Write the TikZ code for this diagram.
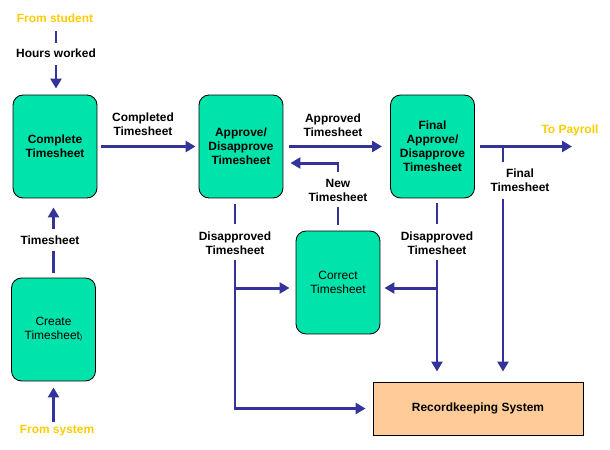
\documentclass[tikz,border=0pt]{standalone}
\usepackage{fontspec}
\setmainfont{Liberation Sans}
\definecolor{tsNavy}{HTML}{333399}
\definecolor{tsGreen}{HTML}{00E3AA}
\definecolor{tsPeach}{HTML}{FFCC99}
\definecolor{tsGold}{HTML}{FFCC00}
\usetikzlibrary{arrows.meta}

\begin{document}
\begin{tikzpicture}[x=0.02cm, y=-0.02cm,
  every node/.style={font=\fontsize{6.8}{8}\selectfont\bfseries, align=center, inner sep=1pt},
  proc/.style={draw=black, fill=tsGreen, rounded corners=0.2cm, line width=0.5pt,
    minimum width=1.68cm, minimum height=2.06cm},
  link/.style={draw=tsNavy, line width=0.06cm},
  flow/.style={link, -{Triangle[length=0.2cm, width=0.22cm]}},
  src/.style={text=tsGold}]
  \useasboundingbox (0,0) rectangle (610,450);

  \node[proc] (complete) at (55,146.5) {Complete\\Timesheet};
  \node[proc] (approve) at (241,146.5) {Approve/\\Disapprove\\Timesheet};
  \node[proc] (final) at (432.5,146.5) {Final\\Approve/\\Disapprove\\Timesheet};
  \node[proc] (correct) at (338,282.5) {\mdseries Correct\\\mdseries Timesheet};
  \node[proc] (create) at (53.5,329.5) {\mdseries Create\\\mdseries Timesheet{\fontsize{4}{4}\selectfont)}};
  \node[draw=black, fill=tsPeach, line width=0.5pt, minimum width=4.2cm, minimum height=1.06cm]
    (records) at (478,408.5) {Recordkeeping System};

  \node[src] (fromstudent) at (55,18) {From student};
  \node (hours) at (56,53) {Hours worked};
  \node (completed) at (143,124) {Completed\\Timesheet};
  \node (approved) at (333,125) {Approved\\Timesheet};
  \node (newts) at (338,190) {New\\Timesheet};
  \node[src] (topayroll) at (570,130) {To Payroll};
  \node (finalts) at (520,180) {Final\\Timesheet};
  \node (dis1) at (235,243) {Disapproved\\Timesheet};
  \node (dis2) at (437,243) {Disapproved\\Timesheet};
  \node (tslabel) at (50,240) {Timesheet};
  \node[src] (fromsystem) at (57,431) {From system};

  \coordinate (nt) at (338,163);
  \coordinate (pay) at (572,146.5);
  \coordinate (fj) at (503,146.5);
  \coordinate (cj1) at (235,288);
  \coordinate (cj2) at (437,288);

  \draw[link, shorten <=0.14cm, shorten >=0.08cm] (fromstudent.south -| hours.north) -- (hours.north);
  \draw[flow, shorten <=0.12cm, shorten >=0.12cm] (hours.south) -- (hours.south |- complete.north);
  \draw[flow, shorten <=0.08cm, shorten >=0.06cm] (complete.east) -- (approve.west);
  \draw[flow, shorten <=0.12cm, shorten >=0.16cm] (approve.east) -- (final.west);
  \draw[link, shorten <=0.12cm, shorten >=0.08cm] (correct.north) -- (correct.north |- newts.south);
  \draw[flow, shorten <=0.1cm, shorten >=0.14cm] (newts.north) -- (nt) -- (approve.east |- nt);
  \draw[flow, shorten <=0.1cm] (final.east) -- (pay);
  \draw[link, shorten >=0.08cm] (fj) -- (fj |- finalts.north);
  \draw[flow, shorten <=0.1cm, shorten >=0.2cm] (fj |- finalts.south) -- (fj |- records.north);
  \draw[link, shorten <=0.12cm, shorten >=0.1cm] (approve.south -| dis1.north) -- (dis1.north);
  \draw[flow, shorten <=0.06cm, shorten >=0.14cm] (dis1.south) -- (dis1.south |- records.west) -- (records.west);
  \draw[flow, shorten >=0.12cm] (cj1) -- (cj1 -| correct.west);
  \draw[link, shorten <=0.1cm, shorten >=0.1cm] (final.south -| dis2.north) -- (dis2.north);
  \draw[flow, shorten <=0.06cm, shorten >=0.2cm] (dis2.south) -- (dis2.south |- records.north);
  \draw[flow, shorten >=0.08cm] (cj2) -- (cj2 -| correct.east);
  \draw[link, shorten <=0.1cm, shorten >=0.1cm] (create.north) -- (create.north |- tslabel.south);
  \draw[flow, shorten <=0.1cm, shorten >=0.18cm] (create.north |- tslabel.north) -- (create.north |- complete.south);
  \draw[flow, shorten <=0.04cm, shorten >=0.12cm] (create.south |- fromsystem.north) -- (create.south);
\end{tikzpicture}
\end{document}
